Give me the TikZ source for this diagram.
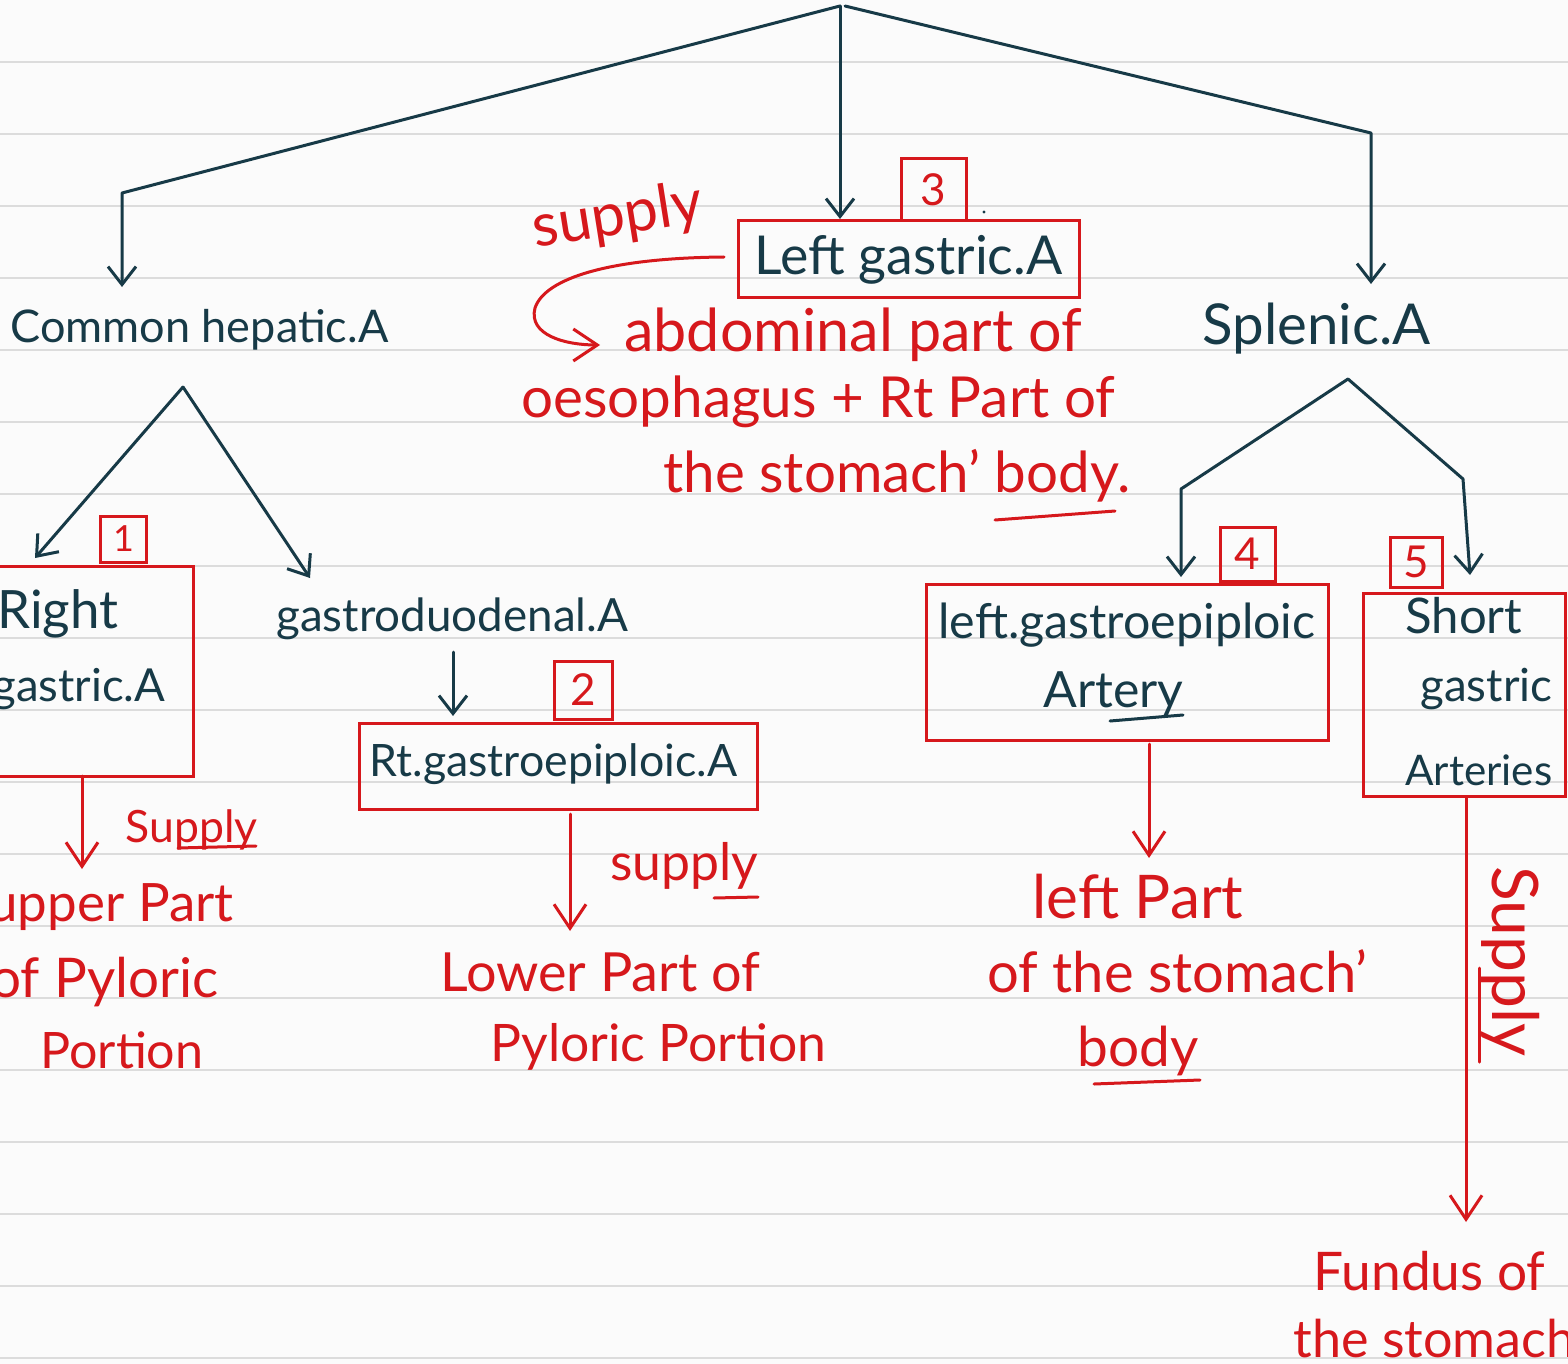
\documentclass[tikz,border=0pt]{standalone}
\usepackage{fontspec}
\setmainfont{Lato}
\usetikzlibrary{arrows.meta}
\definecolor{ink}{HTML}{173A47}
\definecolor{pen}{HTML}{D6181C}
\definecolor{paper}{HTML}{FBFBFB}
\definecolor{ruleline}{HTML}{DCDCDC}
\newlength\fitlen
\newcommand\fitw[2]{\settowidth\fitlen{\fontsize{10pt}{12pt}\selectfont #2}%
  \pgfmathsetmacro\fitsz{5*#1/\fitlen}%
  \fontsize{\fitsz pt}{\fitsz pt}\selectfont #2}
\tikzset{
  txt/.style={inner sep=0pt, anchor=base west},
  dk/.style={txt, text=ink},
  rd/.style={txt, text=pen},
  inkl/.style={draw=ink, line width=1.5pt, line join=round, line cap=round},
  penl/.style={draw=pen, line width=1.5pt, line join=round, line cap=round},
  dtip/.style={-{Straight Barb[length=9pt,width=14pt]}},
  rtip/.style={-{Straight Barb[length=12pt,width=16pt]}},
  redbox/.style={draw=pen, line width=1.5pt, inner sep=0pt, fill=none},
  numbox/.style={redbox, text=pen, font=\fontsize{22pt}{22pt}\selectfont},
}
\begin{document}
\begin{tikzpicture}[x=0.5pt,y=-0.5pt]
\fill[paper] (0,0) rectangle (1568,1364);
\useasboundingbox (0,0) rectangle (1568,1364);
\foreach \k in {0,...,18} \draw[ruleline, line width=1pt] (0,{62+72*\k}) -- (1568,{62+72*\k});

% ---------- top tree ----------
\coordinate (top) at (840,6);
\coordinate (cL) at (122,193);
\coordinate (cR) at (1371,133);
\coordinate (tL) at (122,287);
\coordinate (tM) at (840,219);
\coordinate (tR) at (1371,284);
\draw[inkl, dtip] (top) -- (cL) -- (tL);
\draw[inkl, dtip] (top) -- (tM);
\draw[inkl, dtip] (845,6) -- (cR) -- (tR);

\node[dk] (ch) at (10,343) {\fitw{378}{Common hepatic.A}};
\node[dk] (sp) at (1202,344) {\fitw{228}{Splenic.A}};

% ---------- left gastric ----------
\node[redbox, minimum width=170.5pt, minimum height=38pt] (lgbox) at (908.5,259) {};
\node[numbox, minimum width=32.5pt, minimum height=31pt] (n3) at (933.5,189.5) {3};
\node[dk] (lg) at (754,274) {\fitw{308}{Left gastric.A}};
\fill[ink] (984,212) circle (1.6);

\node[rd, rotate=9] (sup1) at (535,248) {\fitw{172}{supply}};
\coordinate (ca) at (724,257);
\coordinate (cb) at (600,345);
\draw[penl, rtip] (ca) .. controls (610,258) and (545,278) .. (535,308)
  .. controls (528,335) and (565,345) .. (cb);
\node[rd] (ab1) at (624,351) {\fitw{458}{abdominal part of}};
\node[rd] (ab2) at (521,417) {\fitw{594}{oesophagus + Rt Part of}};
\node[rd] (ab3) at (663,492) {\fitw{467}{the stomach’ body.}};
\draw[penl] (995,520) -- (1115,511);

% ---------- common hepatic branch ----------
\coordinate (chA) at (183,387);
\coordinate (chL) at (35,558);
\coordinate (chR) at (310,578);
\draw[inkl, dtip] (chA) -- (chL);
\draw[inkl, dtip] (chA) -- (chR);

% right gastric
\node[redbox, minimum width=103pt, minimum height=105pt] (rgbox) at (90,671) {};
\node[numbox, minimum width=23pt, minimum height=23pt, font=\fontsize{18pt}{18pt}\selectfont] (n1) at (123.5,539) {1};
\node[dk] (rg1) at (-3,628) {\fitw{121}{Right}};
\node[dk] (rg2) at (-8,701) {\fitw{173}{gastric.A}};
\coordinate (rgb) at (82,776);
\coordinate (rgt) at (82,869);
\draw[penl, rtip] (rgb) -- (rgt);
\node[rd] (s1) at (125,842) {\fitw{132}{Supply}};
\draw[penl] (178,848) -- (256,846);
\node[rd] (up1) at (-12,921) {\fitw{245}{upper Part}};
\node[rd] (up2) at (-10,997) {\fitw{228}{of Pyloric}};
\node[rd] (up3) at (40,1068) {\fitw{163}{Portion}};

% gastroduodenal
\node[dk] (gd) at (276,631) {\fitw{352}{gastroduodenal.A}};
\coordinate (gda) at (453,652);
\coordinate (gdb) at (453,716);
\draw[inkl, dtip] (gda) -- (gdb);
\node[redbox, minimum width=199pt, minimum height=43pt] (rtbox) at (558,766) {};
\node[numbox, minimum width=29pt, minimum height=29pt] (n2) at (583.5,690) {2};
\node[dk] (rt) at (369,776) {\fitw{368}{Rt.gastroepiploic.A}};
\coordinate (rta) at (570,814);
\coordinate (rtb) at (570,931);
\draw[penl, rtip] (rta) -- (rtb);
\node[rd] (s2) at (610,880) {\fitw{148}{supply}};
\draw[penl] (714,898) -- (758,897);
\node[rd] (lo1) at (440,991) {\fitw{320}{Lower Part of}};
\node[rd] (lo2) at (490,1061) {\fitw{336}{Pyloric Portion}};

% ---------- splenic branch ----------
\coordinate (spA) at (1348,379);
\coordinate (spL) at (1181,489);
\coordinate (spR) at (1463,479);
\coordinate (spLt) at (1181,577);
\coordinate (spRt) at (1470,575);
\draw[inkl, dtip] (spA) -- (spL) -- (spLt);
\draw[inkl, dtip] (spA) -- (spR) -- (spRt);

% left gastroepiploic
\node[redbox, minimum width=201pt, minimum height=78pt] (lgebox) at (1127,662.5) {};
\node[numbox, minimum width=27.5pt, minimum height=27pt] (n4) at (1247.5,554) {4};
\node[dk] (lge1) at (938,638) {\fitw{377}{left.gastroepiploic}};
\node[dk] (lge2) at (1043,707) {\fitw{140}{Artery}};
\draw[inkl] (1110,721) -- (1183,715);
\coordinate (lgea) at (1149,744);
\coordinate (lgeb) at (1149,858);
\draw[penl, rtip] (lgea) -- (lgeb);
\node[rd] (lp1) at (1032,918) {\fitw{211}{left Part}};
\node[rd] (lp2) at (987,992) {\fitw{380}{of the stomach’}};
\node[rd] (lp3) at (1077,1066) {\fitw{121}{body}};
\draw[penl] (1094,1084) -- (1200,1080);

% short gastric
\node[redbox, minimum width=101pt, minimum height=101.5pt] (sgbox) at (1464,694.5) {};
\node[numbox, minimum width=26pt, minimum height=25pt] (n5) at (1416,562) {5};
\node[dk] (sg1) at (1405,633) {\fitw{117}{Short}};
\node[dk] (sg2) at (1420,701) {\fitw{132}{gastric}};
\node[dk] (sg3) at (1405,785) {\fitw{147}{Arteries}};
\coordinate (sga) at (1466,797);
\coordinate (sgb) at (1466,1222);
\draw[penl, rtip] (sga) -- (sgb);
\node[rd, rotate=-90] (s3) at (1492,866) {\fitw{190}{Supply}};
\draw[penl] (1479,968) -- (1479,1062);
\node[rd] (fu1) at (1313,1290) {\fitw{232}{Fundus of}};
\node[rd] (fu2) at (1293,1357) {\fitw{282}{the stomach}};
\end{tikzpicture}
\end{document}
